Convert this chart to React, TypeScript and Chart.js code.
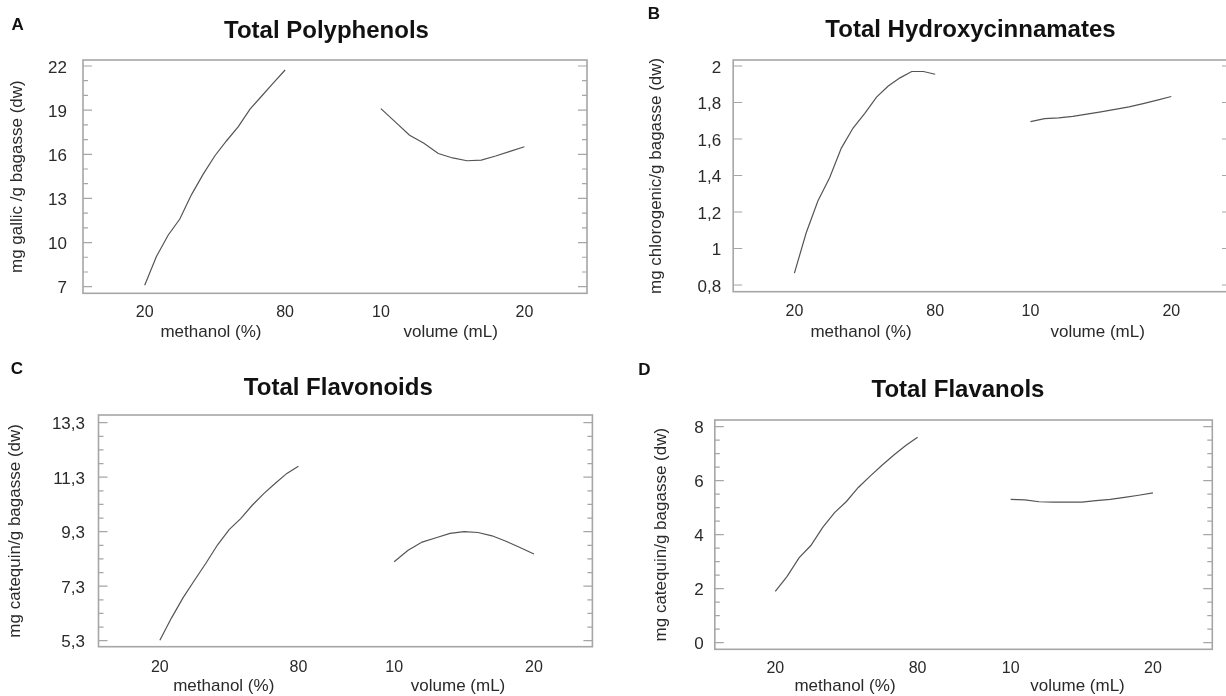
import React, { useEffect, useRef } from 'react';
import { Chart, registerables } from 'chart.js';

Chart.register(...registerables);

// ---------- data ----------
const methanolLevels = [20, 25, 30, 35, 40, 45, 50, 55, 60, 65, 70, 75, 80];
const volumeLevels = [10, 11, 12, 13, 14, 15, 16, 17, 18, 19, 20];

const polyphenolsMethanol = [7.1, 9.05, 10.5, 11.6, 13.26, 14.65, 15.9, 16.92, 17.88, 19.07, 19.96, 20.86, 21.73];
const polyphenolsVolume = [19.1, 18.2, 17.3, 16.75, 16.05, 15.75, 15.56, 15.6, 15.88, 16.2, 16.51];

const hydroxyMethanol = [0.865, 1.085, 1.26, 1.388, 1.55, 1.66, 1.74, 1.83, 1.89, 1.935, 1.97, 1.97, 1.955];
const hydroxyVolume = [1.695, 1.712, 1.716, 1.724, 1.736, 1.749, 1.762, 1.776, 1.794, 1.813, 1.833];

const flavonoidsMethanol = [5.32, 6.13, 6.87, 7.52, 8.15, 8.82, 9.38, 9.78, 10.27, 10.7, 11.08, 11.44, 11.7];
const flavonoidsVolume = [8.2, 8.62, 8.92, 9.08, 9.24, 9.3, 9.27, 9.15, 8.95, 8.72, 8.48];

const flavanolsMethanol = [1.9, 2.46, 3.14, 3.6, 4.27, 4.82, 5.23, 5.75, 6.17, 6.57, 6.95, 7.3, 7.61];
const flavanolsVolume = [5.31, 5.29, 5.22, 5.21, 5.21, 5.21, 5.26, 5.31, 5.38, 5.46, 5.55];

// tick labels
const methanolTickLabels = [20, 80];
const volumeTickLabels = [10, 20];
const methanolAxisTitle = 'methanol (%)';
const volumeAxisTitle = 'volume (mL)';

const polyphenolsYTicks = [7, 10, 13, 16, 19, 22];
const hydroxyYTicks = [0.8, 1, 1.2, 1.4, 1.6, 1.8, 2];
const flavonoidsYTicks = [5.3, 7.3, 9.3, 11.3, 13.3];
const flavanolsYTicks = [0, 2, 4, 6, 8];

// ---------- layout / style ----------
const FONT = '"Liberation Sans", Arial, Helvetica, sans-serif';
const LINE_COLOR = '#555555';
const FRAME_COLOR = '#a6a6a6';
const TEXT_COLOR = '#2a2a2a';

type PanelCfg = {
  letter: string;
  title: string;
  yTitle: string;
  mVals: number[];
  vVals: number[];
  yTicks: number[];
  yMinor: number | null;
  rect: { x: number; y: number; w: number; h: number };
  box: { L: number; T: number; R: number; B: number };
  yMin: number;
  yMax: number;
  xMin: number;
  xMax: number;
  vStart: number;
  vEnd: number;
  mTitle: number;
  vTitle: number;
  yTitleX: number;
  yPad: number;
  xPad: number;
  lhT: number;
  letterPos: { left: number; top: number };
  titlePos: { cx: number; top: number };
};

const panels: PanelCfg[] = [
  {
    letter: 'A', title: 'Total Polyphenols', yTitle: 'mg gallic /g bagasse (dw)',
    mVals: polyphenolsMethanol, vVals: polyphenolsVolume, yTicks: polyphenolsYTicks, yMinor: 1,
    rect: { x: 0, y: 0, w: 613, h: 348 }, box: { L: 83, T: 60, R: 587, B: 293.3 },
    yMin: 6.551, yMax: 22.408, xMin: -0.4395, xMax: 3.15, vStart: 1.682, vEnd: 2.704,
    mTitle: 0.472, vTitle: 2.179, yTitleX: 17, yPad: 16, xPad: 10.1, lhT: 19.3,
    letterPos: { left: 11.5, top: 15.8 }, titlePos: { cx: 326.5, top: 17.6 },
  },
  {
    letter: 'B', title: 'Total Hydroxycinnamates', yTitle: 'mg chlorogenic/g bagasse (dw)',
    mVals: hydroxyMethanol, vVals: hydroxyVolume, yTicks: hydroxyYTicks, yMinor: null,
    rect: { x: 613, y: 0, w: 630, h: 348 }, box: { L: 733.2, T: 60, R: 1231, B: 291.7 },
    yMin: 0.7633, yMax: 2.0329, xMin: -0.4347, xMax: 3.101, vStart: 1.677, vEnd: 2.677,
    mTitle: 0.473, vTitle: 2.154, yTitleX: 656, yPad: 12, xPad: 10.6, lhT: 19.9,
    letterPos: { left: 647.8, top: 4.5 }, titlePos: { cx: 970.5, top: 16.9 },
  },
  {
    letter: 'C', title: 'Total Flavonoids', yTitle: 'mg catequin/g bagasse (dw)',
    mVals: flavonoidsMethanol, vVals: flavonoidsVolume, yTicks: flavonoidsYTicks, yMinor: 0.5,
    rect: { x: 0, y: 348, w: 613, h: 348 }, box: { L: 98.5, T: 415, R: 592.4, B: 646.7 },
    yMin: 5.08, yMax: 13.583, xMin: -0.443, xMax: 3.122, vStart: 1.691, vEnd: 2.7,
    mTitle: 0.461, vTitle: 2.152, yTitleX: 15.5, yPad: 13.5, xPad: 11.5, lhT: 19,
    letterPos: { left: 10.8, top: 359.5 }, titlePos: { cx: 338.3, top: 375.2 },
  },
  {
    letter: 'D', title: 'Total Flavanols', yTitle: 'mg catequin/g bagasse (dw)',
    mVals: flavanolsMethanol, vVals: flavanolsVolume, yTicks: flavanolsYTicks, yMinor: 0.5,
    rect: { x: 613, y: 348, w: 613, h: 348 }, box: { L: 714.8, T: 420, R: 1212.3, B: 649.3 },
    yMin: -0.244, yMax: 8.248, xMin: -0.425, xMax: 3.071, vStart: 1.654, vEnd: 2.654,
    mTitle: 0.49, vTitle: 2.124, yTitleX: 661.4, yPad: 11, xPad: 9.6, lhT: 18.6,
    letterPos: { left: 638.2, top: 361.1 }, titlePos: { cx: 958, top: 376.9 },
  },
];

const round = (v: number) => Math.round(v * 1000) / 1000;
const fmt = (v: number) => String(round(v)).replace('.', ',');

const framePlugin = {
  id: 'frame',
  afterDatasetsDraw(chart: any, _args: any, opts: any) {
    const { ctx, chartArea } = chart;
    const { left, right, top, bottom } = chartArea;
    const y = chart.scales.y;
    ctx.save();
    ctx.strokeStyle = FRAME_COLOR;
    ctx.lineWidth = 1.6;
    ctx.strokeRect(left, top, right - left, bottom - top);
    ctx.lineWidth = 1.2;
    const majors: number[] = opts.majors || [];
    y.ticks.forEach((t: any) => {
      const p = y.getPixelForValue(t.value);
      const isMajor = majors.some((m) => Math.abs(m - t.value) < 1e-6);
      const len = isMajor ? 9 : 5;
      ctx.beginPath();
      ctx.moveTo(left, p);
      ctx.lineTo(left + len, p);
      ctx.moveTo(right, p);
      ctx.lineTo(right - len, p);
      ctx.stroke();
    });
    ctx.restore();
  },
};

function Panel({ p }: { p: PanelCfg }) {
  const ref = useRef<HTMLCanvasElement | null>(null);

  useEffect(() => {
    if (!ref.current) return;
    const mFirst = methanolLevels[0];
    const mLast = methanolLevels[methanolLevels.length - 1];
    const vFirst = volumeLevels[0];
    const vLast = volumeLevels[volumeLevels.length - 1];
    const mPos = (m: number) => (m - mFirst) / (mLast - mFirst);
    const vPos = (v: number) => p.vStart + ((v - vFirst) / (vLast - vFirst)) * (p.vEnd - p.vStart);

    const xTicks: { value: number; label: any; title?: boolean }[] = [
      { value: mPos(methanolTickLabels[0]), label: String(methanolTickLabels[0]) },
      { value: p.mTitle, label: ['', methanolAxisTitle], title: true },
      { value: mPos(methanolTickLabels[1]), label: String(methanolTickLabels[1]) },
      { value: vPos(volumeTickLabels[0]), label: String(volumeTickLabels[0]) },
      { value: p.vTitle, label: ['', volumeAxisTitle], title: true },
      { value: vPos(volumeTickLabels[1]), label: String(volumeTickLabels[1]) },
    ];

    const yFirst = p.yTicks[0];
    const yLast = p.yTicks[p.yTicks.length - 1];
    const yAll: number[] = [];
    if (p.yMinor) {
      const n = Math.round((yLast - yFirst) / p.yMinor);
      for (let i = 0; i <= n; i++) yAll.push(round(yFirst + i * p.yMinor));
    } else {
      p.yTicks.forEach((v) => yAll.push(v));
    }

    const padLeft = p.yTitleX - p.rect.x - 10.2;
    const yW = p.box.L - p.rect.x - padLeft;
    const padTop = p.box.T - p.rect.y;
    const padRight = p.rect.x + p.rect.w - p.box.R;
    const xH = p.rect.y + p.rect.h - p.box.B;

    const chart = new Chart(ref.current, {
      type: 'line',
      data: {
        datasets: [
          {
            data: methanolLevels.map((m, i) => ({ x: mPos(m), y: p.mVals[i] })),
            borderColor: LINE_COLOR,
            borderWidth: 1.2,
            pointRadius: 0,
            tension: 0,
            fill: false,
          },
          {
            data: volumeLevels.map((v, i) => ({ x: vPos(v), y: p.vVals[i] })),
            borderColor: LINE_COLOR,
            borderWidth: 1.2,
            pointRadius: 0,
            tension: 0,
            fill: false,
          },
        ],
      },
      options: {
        animation: false,
        responsive: false,
        maintainAspectRatio: false,
        layout: { padding: { left: padLeft, top: padTop, right: padRight, bottom: 0 } },
        plugins: {
          legend: { display: false },
          tooltip: { enabled: false },
          title: { display: false },
          // @ts-ignore
          frame: { majors: p.yTicks },
        },
        scales: {
          x: {
            type: 'linear',
            min: p.xMin,
            max: p.xMax,
            grid: { display: false, drawTicks: false },
            border: { display: false },
            afterBuildTicks: (s: any) => {
              s.ticks = xTicks.map((t) => ({ value: t.value }));
            },
            afterFit: (s: any) => {
              s.height = xH;
            },
            ticks: {
              autoSkip: false,
              maxRotation: 0,
              minRotation: 0,
              padding: p.xPad,
              color: TEXT_COLOR,
              font: (ctx: any) => {
                const t = xTicks[ctx.index];
                return t && t.title
                  ? { family: FONT, size: 17, lineHeight: p.lhT / 17 }
                  : { family: FONT, size: 16, lineHeight: 1.2 };
              },
              callback: (_v: any, i: number) => (xTicks[i] ? xTicks[i].label : ''),
            },
          },
          y: {
            type: 'linear',
            min: p.yMin,
            max: p.yMax,
            grid: { display: false, drawTicks: false },
            border: { display: false },
            afterBuildTicks: (s: any) => {
              s.ticks = yAll.map((v) => ({ value: v }));
            },
            afterFit: (s: any) => {
              s.width = yW;
            },
            ticks: {
              autoSkip: false,
              padding: p.yPad,
              color: TEXT_COLOR,
              labelOffset: 2,
              font: { family: FONT, size: 17 },
              callback: (v: any) => {
                const val = Number(v);
                return p.yTicks.some((m) => Math.abs(m - val) < 1e-6) ? fmt(val) : '';
              },
            },
            title: {
              display: true,
              text: p.yTitle,
              color: TEXT_COLOR,
              font: { family: FONT, size: 17, lineHeight: 1.2 },
              padding: 0,
            },
          },
        },
      } as any,
      plugins: [framePlugin as any],
    });
    return () => chart.destroy();
  }, [p]);

  return (
    <>
      <canvas
        ref={ref}
        width={p.rect.w}
        height={p.rect.h}
        style={{ position: 'absolute', left: p.rect.x, top: p.rect.y, width: p.rect.w, height: p.rect.h }}
      />
      <div
        style={{
          position: 'absolute', left: p.letterPos.left, top: p.letterPos.top,
          fontFamily: FONT, fontWeight: 'bold', fontSize: 17, lineHeight: '17px', color: '#111',
        }}
      >
        {p.letter}
      </div>
      <div
        style={{
          position: 'absolute', left: p.titlePos.cx - 250, width: 500, top: p.titlePos.top,
          textAlign: 'center', fontFamily: FONT, fontWeight: 'bold', fontSize: 24, lineHeight: '24px', color: '#111',
        }}
      >
        {p.title}
      </div>
    </>
  );
}

export default function App() {
  return (
    <div
      style={{
        position: 'absolute', left: 0, top: 0, width: 1226, height: 696,
        overflow: 'hidden', background: '#ffffff',
      }}
    >
      {panels.map((p) => (
        <Panel key={p.letter} p={p} />
      ))}
    </div>
  );
}
